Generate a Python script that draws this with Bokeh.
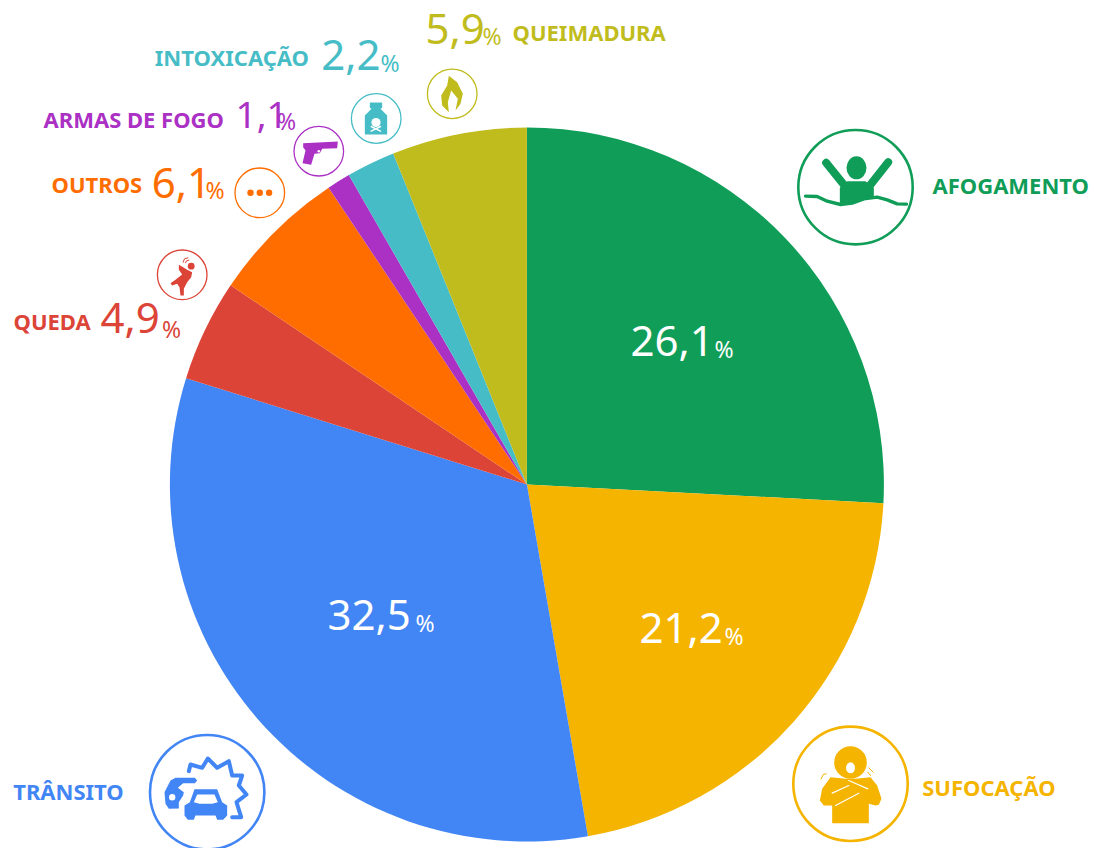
import math
from bokeh.plotting import figure
from bokeh.models import Range1d
from bokeh.core.properties import value
from bokeh.embed import file_html
from bokeh.resources import INLINE

# --- data ---
categories = ["AFOGAMENTO", "SUFOCAÇÃO", "TRÂNSITO", "QUEDA", "OUTROS", "ARMAS DE FOGO", "INTOXICAÇÃO", "QUEIMADURA"]
printed = ["26,1", "21,2", "32,5", "4,9", "6,1", "1,1", "2,2", "5,9"]
shares = [25.8, 21.4, 32.5, 4.6, 6.2, 1.06, 2.2, 6.1]
colors = ["#0F9D58", "#F4B400", "#4285F4", "#DB4437", "#FF6D00", "#AB30C4", "#46BDC6", "#C1BC1D"]

FONT = "Noto Sans"
p = figure(width=1094, height=848, output_backend="svg", toolbar_location=None,
           x_range=Range1d(0, 1094), y_range=Range1d(848, 0), min_border=0,
           outline_line_color=None, background_fill_color="white")
p.axis.visible = False
p.grid.visible = False

# pie: clockwise from 12 o'clock
cx, cy, R = 526.4, 484, 357
total = sum(shares)
a = 0.0
for s, c in zip(shares, colors):
    b = a + s / total * 2 * math.pi
    p.wedge(x=[cx], y=[cy], radius=R, start_angle=math.pi / 2 - a, end_angle=math.pi / 2 - b,
            direction="clock", fill_color=c, line_color=None)
    a = b

BASE = 0.41  # offset of the renderer's alphabetic baseline, in em
def T(s, x, y, size, color, bold=False):
    p.text(x=[x], y=[y - BASE * size], text=[s], text_font=value(FONT), text_font_size=f"{size}px", text_color=color,
           text_align="left", text_baseline="alphabetic", text_font_style="bold" if bold else "normal")

NAME = 22; NUM = 42; PCT = 23; NUM_TIGHT = 37
# category name positions
name_pos = [(932, 193.5), (921.7, 796), (12.7, 799.3), (13, 329.3), (51, 192.7), (43, 127.7), (154.3, 65.7), (512, 41)]
for n, (x, y), c in zip(categories, name_pos, colors):
    T(n, x, y, NAME, c, bold=True)
# number positions, % positions
num_pos = [(630, 358), (639, 645), (327, 632), (100, 335), (151.3, 199.3), (235, 130), (320.7, 71.7), (425, 46)]
pct_pos = [(714, 358), (724, 645), (415, 632), (161.5, 338), (205, 199.3), (276.5, 130), (380, 71.7), (482, 45)]
for i, (v, (x, y), (px_, py_)) in enumerate(zip(printed, num_pos, pct_pos)):
    col = "white" if i < 3 else colors[i]
    T(v, x, y, NUM_TIGHT if v == "1,1" else NUM, col)
    T("%", px_, py_, PCT, col)

# --- icons ---
def Z(ox, oy, pts):
    return [ox + q[0] / 3 for q in pts], [oy + q[1] / 3 for q in pts]
def ring(x, y, r, c, w):
    p.circle(x=[x], y=[y], radius=r, fill_color=None, line_color=c, line_width=w)
def dot(x, y, r, c):
    p.circle(x=[x], y=[y], radius=r, fill_color=c, line_color=None)
def poly(ox, oy, pts, c):
    xs, ys = Z(ox, oy, pts)
    p.patch(xs, ys, fill_color=c, line_color=None)
def pl(ox, oy, pts, c, w):
    xs, ys = Z(ox, oy, pts)
    p.line(xs, ys, line_color=c, line_width=w, line_cap="round", line_join="round")

# afogamento
G = colors[0]
ring(855, 186.7, 57.2, G, 2.6)
p.ellipse(x=[856], y=[167.3], width=20, height=23, fill_color=G, line_color=None)
pl(780, 110, [(137, 157), (192, 225)], G, 8)
pl(780, 110, [(323, 155), (268, 225)], G, 8)
poly(780, 110, [(178, 232), (200, 212), (255, 212), (280, 232), (280, 262), (250, 265), (215, 278), (178, 280)], G)
pl(780, 110, [(75, 257), (110, 258), (140, 272), (180, 282), (215, 278), (250, 265), (290, 260), (320, 268), (350, 280), (378, 281)], G, 3.4)

# sufocação
Y = colors[1]
ring(850, 783.3, 57.2, Y, 2.6)
dot(850, 762, 16.3, Y)
p.ellipse(x=[850], y=[767.3], width=9, height=11, fill_color="white", line_color=None)
poly(780, 710, [(150, 200), (195, 205), (225, 205), (270, 200), (290, 225), (303, 265), (295, 283), (285, 285), (265, 280), (265, 338),
                (155, 338), (155, 285), (130, 285), (118, 270), (125, 235)], Y)
pl(780, 710, [(155, 248), (205, 225)], "white", 1.2)
pl(780, 710, [(205, 210), (262, 235)], "white", 1.2)
pl(780, 710, [(165, 285), (235, 248)], "white", 1.2)
pl(780, 710, [(122, 205), (128, 192), (137, 190)], Y, 1)
pl(780, 710, [(265, 172), (278, 185)], Y, 1)
pl(780, 710, [(262, 185), (270, 195)], Y, 1)

# trânsito
B = colors[2]
ring(206.7, 791.7, 57.2, B, 2.6)
pl(0, 720, [(565, 152), (570, 132), (605, 142), (622, 114), (650, 142), (685, 122), (695, 165), (725, 165), (715, 195),
            (738, 222), (708, 245), (722, 290), (695, 290)], B, 4)
poly(0, 720, [(525, 172), (583, 172), (590, 180), (583, 188), (548, 188), (532, 202), (550, 215), (548, 225), (535, 245), (535, 264),
              (505, 265), (495, 250), (492, 215), (510, 180)], B)
dot(171.7, 796.7, 3.2, "white")
poly(0, 720, [(582, 206), (650, 206), (665, 245), (680, 255), (680, 285), (668, 298), (650, 298), (645, 285), (585, 285), (580, 298),
              (562, 298), (552, 285), (552, 255), (568, 245)], B)
poly(0, 720, [(590, 222), (642, 222), (652, 245), (635, 250), (597, 250), (580, 245)], "white")

# queda
Q = colors[3]
ring(181.7, 274.3, 24.8, Q, 1.3)
dot(190.7, 265.7, 3.4, Q)
poly(0, 0, [(535, 793), (548, 800), (560, 808), (575, 815), (572, 830), (560, 845), (550, 865), (550, 885), (540, 885), (537, 860),
            (530, 850), (515, 855), (510, 848), (525, 838), (545, 822), (535, 808)], Q)
pl(0, 0, [(548, 785), (552, 775), (562, 772)], Q, 1)
pl(0, 0, [(555, 787), (558, 781), (565, 779)], Q, 1)

# outros
O = colors[4]
ring(259.3, 192.3, 24.8, O, 1.3)
for dx in (-9.3, 0, 9.3):
    dot(259.3 + dx, 192.3, 3.2, O)

# armas de fogo
A = colors[5]
ring(318.3, 150.7, 24.8, A, 1.3)
poly(0, 0, [(908, 428), (1012, 423), (1010, 443), (965, 445), (958, 458), (942, 460), (932, 493), (906, 488), (915, 450), (908, 440)], A)
dot(318.3, 150.7, 1.3, "white")

# intoxicação
I = colors[6]
ring(375.7, 118, 24.8, I, 1.3)
poly(0, 0, [(1108, 306), (1145, 306), (1145, 322), (1140, 325), (1160, 345), (1160, 402), (1093, 402), (1093, 345), (1113, 325), (1108, 322)], I)
dot(375.5, 122, 4.6, "white")
pl(0, 0, [(1112, 378), (1140, 392)], "white", 1.4)
pl(0, 0, [(1140, 378), (1112, 392)], "white", 1.4)

# queimadura
F = colors[7]
ring(451.7, 93.3, 24.8, F, 1.3)
poly(0, 0, [(1345, 226), (1370, 245), (1387, 280), (1380, 310), (1365, 330), (1372, 295), (1352, 270), (1342, 305), (1345, 335), (1325, 315), (1322, 285), (1340, 255)], F)

open("out.html", "w").write(file_html(p, INLINE))
